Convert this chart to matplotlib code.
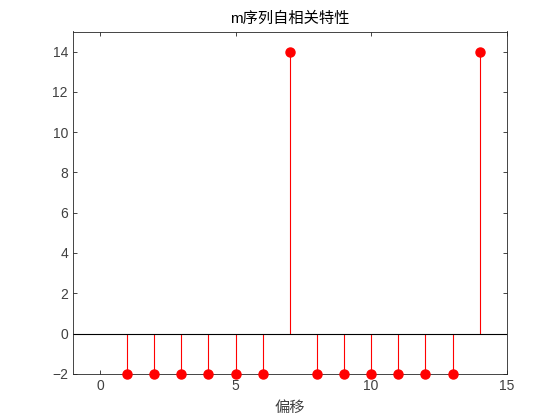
import matplotlib
matplotlib.use("Agg")
import matplotlib.pyplot as plt

plt.rcParams['font.family'] = ['Liberation Sans', 'Noto Sans CJK SC', 'DejaVu Sans']

lags = [1, 2, 3, 4, 5, 6, 7, 8, 9, 10, 11, 12, 13, 14]
values = [-2, -2, -2, -2, -2, -2, 14, -2, -2, -2, -2, -2, -2, 14]
xticks = [0, 5, 10, 15]
yticks = [-2, 0, 2, 4, 6, 8, 10, 12, 14]

fig = plt.figure(figsize=(5.6, 4.2), dpi=100)
ax = fig.add_axes([0.13, 0.11, 0.775, 0.815])

ml, sl, bl = ax.stem(lags, values, linefmt='r-', markerfmt='ro', basefmt='k-')
plt.setp(sl, linewidth=0.8)
plt.setp(ml, markersize=6.5)
bl.set_linewidth(0.8)
bl.set_xdata([-1, 15])
ml.set_zorder(4)
ml.set_clip_on(False)

ax.set_xlim(-1, 15)
ax.set_ylim(-2, 15)
ax.set_xticks(xticks)
ax.set_yticks(yticks)
ax.tick_params(direction='in', top=True, right=True, length=3, width=0.6,
               labelsize=10, colors='#262626', labelcolor='#404040')
for s in ax.spines.values():
    s.set_linewidth(0.6)
    s.set_color('#262626')
ax.set_title('m序列自相关特性', fontsize=11, color='black', pad=6)
ax.set_xlabel('偏移', fontsize=11, color='#404040', labelpad=6)

fig.savefig('out.png', dpi=100)
